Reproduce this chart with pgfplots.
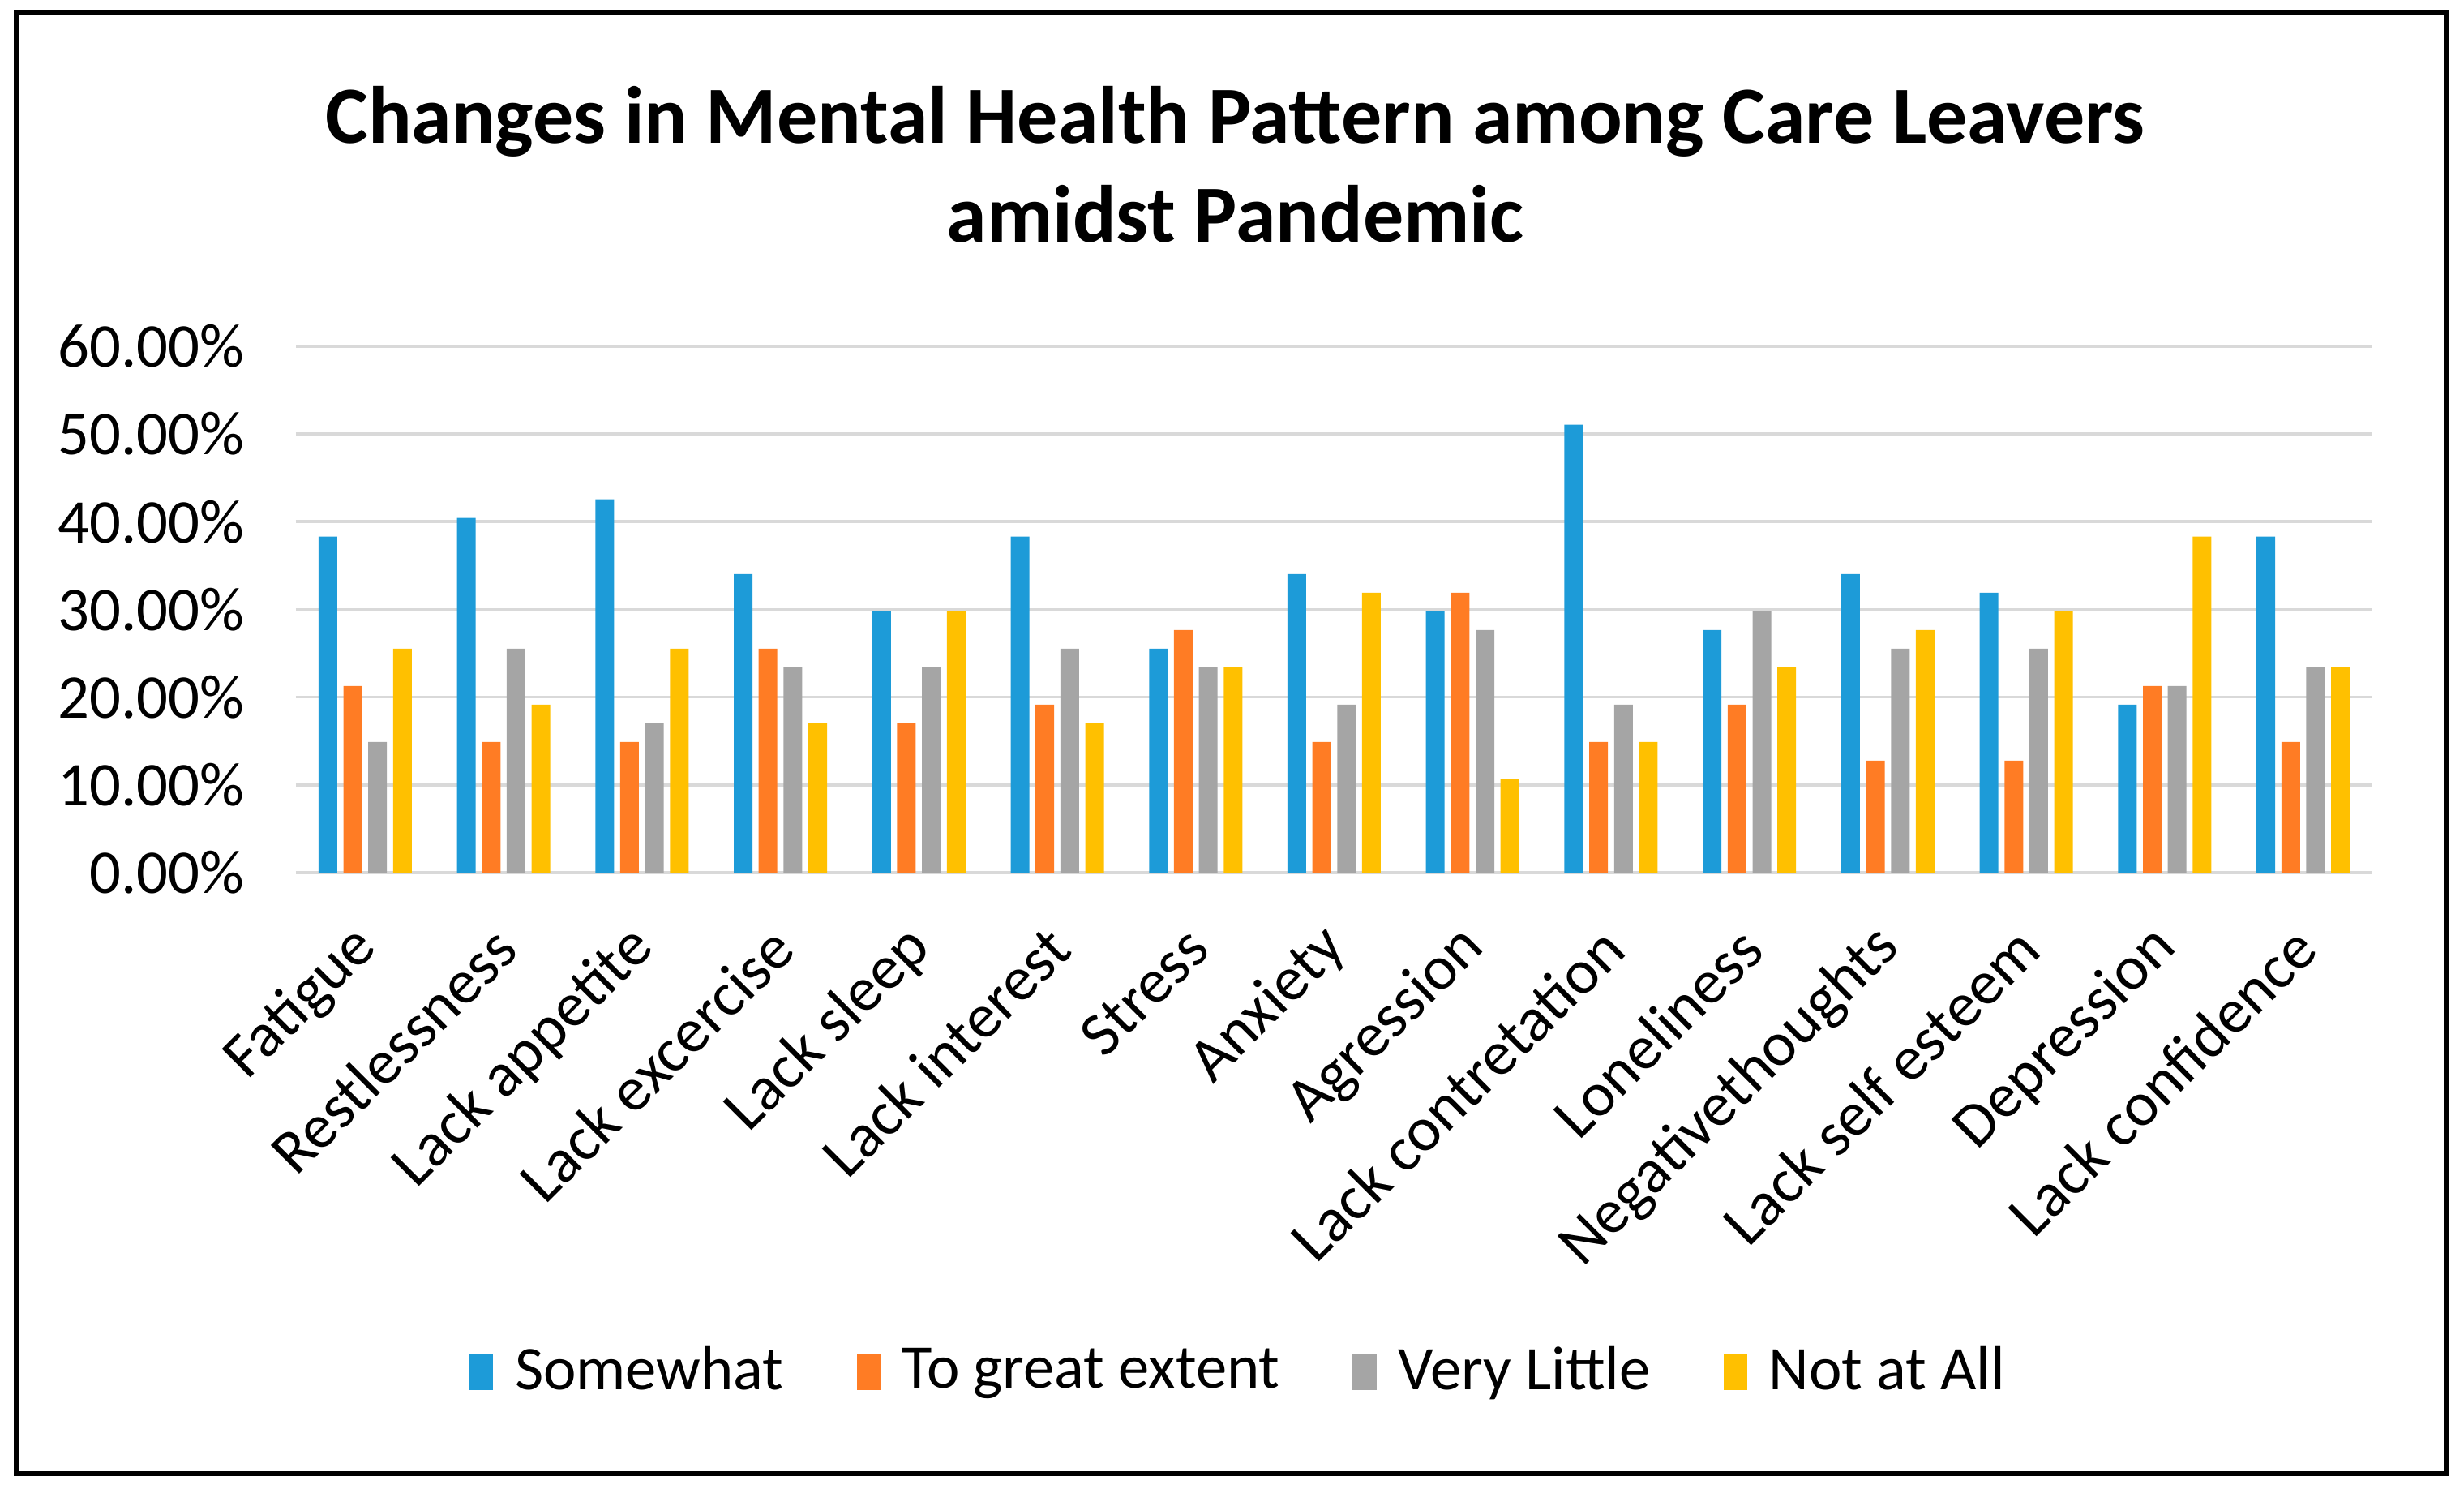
\documentclass[border=0pt]{standalone}
\usepackage{fontspec}
\setmainfont{Carlito}
\usepackage{pgfplots}
\usepackage{pgfplotstable}
\pgfplotsset{compat=1.18}

\definecolor{cblue}{HTML}{1D9BD8}
\definecolor{corange}{HTML}{FF7C24}
\definecolor{cgray}{HTML}{A5A5A5}
\definecolor{cyellow}{HTML}{FFC000}
\definecolor{gridgray}{HTML}{D9D9D9}

% share of the 47 care leavers, in percent
\pgfplotstableread{
x  somewhat great little notatall
0  38.30 21.28 14.89 25.53
1  40.43 14.89 25.53 19.15
2  42.55 14.89 17.02 25.53
3  34.04 25.53 23.40 17.02
4  29.79 17.02 23.40 29.79
5  38.30 19.15 25.53 17.02
6  25.53 27.66 23.40 23.40
7  34.04 14.89 19.15 31.91
8  29.79 31.91 27.66 10.64
9  51.06 14.89 19.15 14.89
10 27.66 19.15 29.79 23.40
11 34.04 12.77 25.53 27.66
12 31.91 12.77 25.53 29.79
13 19.15 21.28 21.28 38.30
14 38.30 14.89 23.40 23.40
}\mhdata

\begin{document}
\begin{tikzpicture}
\useasboundingbox (0,0) rectangle (455.85pt,275.4pt);
\draw[line width=1pt] (3pt,2.85pt) rectangle (452.55pt,273.15pt);

\node[anchor=base,font=\fontsize{15}{18}\selectfont\bfseries] at (228.5pt,248.85pt)
  {Changes in Mental Health Pattern among Care Leavers};
\node[anchor=base,font=\fontsize{15}{18}\selectfont\bfseries] at (228.5pt,230.55pt)
  {amidst Pandemic};

\begin{axis}[
  at={(54.75pt,114pt)}, anchor=south west,
  scale only axis,
  width=384.15pt, height=97.35pt,
  ybar=1.15pt, bar width=3.45pt,
  xmin=-0.5, xmax=14.5,
  ymin=0, ymax=60,
  ytick={0,10,...,60},
  xtick=data,
  xticklabels={Fatigue,Restlessness,Lack appetite,Lack excercise,Lack sleep,Lack interest,Stress,Anxiety,Agression,Lack contretation,Loneliness,Negativethoughts,Lack self esteem,Depression,Lack confidence},
  xticklabel style={rotate=45, anchor=east, yshift=-8.8pt, xshift=-4.8pt,
    font=\fontsize{11.6}{14}\selectfont},
  yticklabel={\pgfmathprintnumber[fixed,fixed zerofill,precision=2]{\tick}\%},
  yticklabel style={xshift=-6pt, font=\fontsize{11.5}{14}\selectfont},
  /pgf/number format/assume math mode=true,
  major tick length=0pt,
  axis line style={draw=none},
  ymajorgrids,
  grid style={gridgray, line width=0.55pt},
  legend columns=4,
  legend style={at={(0.456,-0.949)}, anchor=center, draw=none,
    font=\fontsize{11.5}{14}\selectfont,
    /tikz/every odd column/.append style={column sep=2pt},
    /tikz/every even column/.append style={column sep=11.5pt}},
  legend image code/.code={\fill[#1] (0pt,-3.3pt) rectangle (4.4pt,3.4pt);},
]
\addplot[draw=none, fill=cblue] table[x=x, y=somewhat] {\mhdata};
\addplot[draw=none, fill=corange] table[x=x, y=great] {\mhdata};
\addplot[draw=none, fill=cgray] table[x=x, y=little] {\mhdata};
\addplot[draw=none, fill=cyellow] table[x=x, y=notatall] {\mhdata};
\legend{Somewhat,To great extent,Very Little,Not at All}
\end{axis}
\end{tikzpicture}
\end{document}
